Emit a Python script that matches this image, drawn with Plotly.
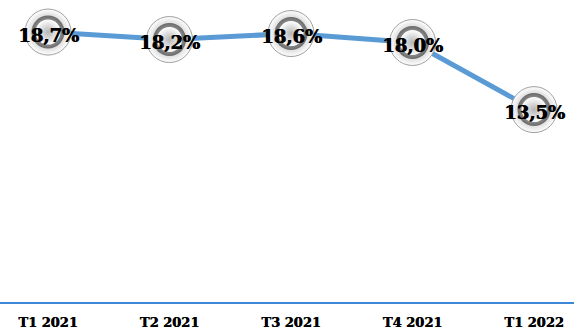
import plotly.graph_objects as go

categories = ["T1 2021", "T2 2021", "T3 2021", "T4 2021", "T1 2022"]
values = [18.7, 18.2, 18.6, 18.0, 13.5]
labels = ["18,7%", "18,2%", "18,6%", "18,0%", "13,5%"]

FONT = "DejaVu Serif"

fig = go.Figure()

# line
fig.add_trace(go.Scatter(x=categories, y=values, mode="lines",
                         line=dict(color="#5B9BD5", width=5),
                         hoverinfo="skip", cliponaxis=False))

# glossy ring markers (layered)
fig.add_trace(go.Scatter(x=categories, y=values, mode="markers", cliponaxis=False,
                         marker=dict(size=46, color="#ffffff",
                                     gradient=dict(type="radial", color="#8e8e8e"),
                                     line=dict(color="#a0a0a0", width=1)),
                         hoverinfo="skip"))
fig.add_trace(go.Scatter(x=categories, y=values, mode="markers", cliponaxis=False,
                         marker=dict(size=33, color="#6a6a6a",
                                     gradient=dict(type="radial", color="#e8e8e8"),
                                     line=dict(width=0)),
                         hoverinfo="skip"))
fig.add_trace(go.Scatter(x=categories, y=values, mode="markers", cliponaxis=False,
                         marker=dict(size=25, color="#ffffff",
                                     gradient=dict(type="radial", color="#b5b5b5"),
                                     line=dict(width=0)),
                         hoverinfo="skip"))

for c, v, t in zip(categories, values, labels):
    fig.add_annotation(x=c, y=v, text=t, showarrow=False, yshift=-3,
                       font=dict(family=FONT, size=18, color="black", weight="bold",
                                 shadow="0.7px 0px 0px black"))

fig.update_layout(
    width=574, height=332,
    margin=dict(l=0, r=0, t=0, b=30),
    paper_bgcolor="white", plot_bgcolor="white",
    showlegend=False,
    xaxis=dict(type="category", range=[-0.395, 4.329], showgrid=False,
               showline=True, linecolor="#3d87d6", linewidth=1.5,
               ticks="", ticklabelstandoff=8, zeroline=False,
               tickfont=dict(family=FONT, size=13, color="black", weight="bold",
                             shadow="0.5px 0px 0px black")),
    yaxis=dict(range=[0.6, 20.85], visible=False, showgrid=False, zeroline=False),
)

fig.write_html("out.html")
